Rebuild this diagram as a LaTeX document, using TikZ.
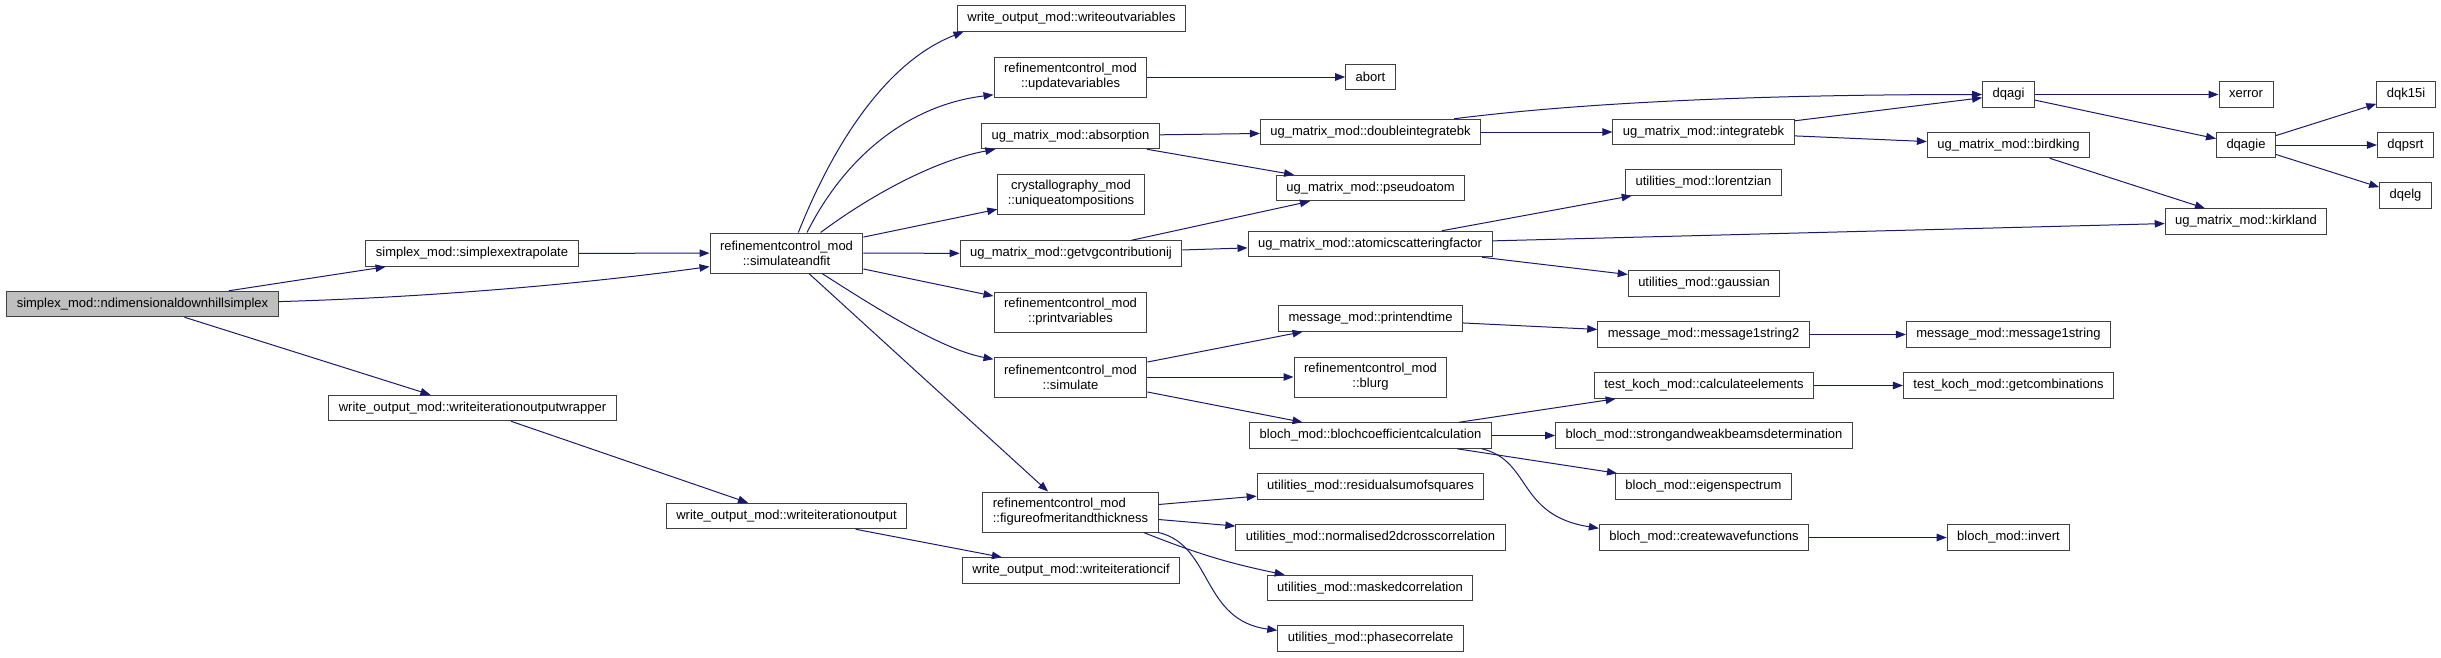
\documentclass[tikz,border=0pt]{standalone}
\usepackage{fontspec}
\setmainfont{Liberation Sans}
\usetikzlibrary{arrows.meta}
\definecolor{callblue}{HTML}{191970}

\begin{document}
\begin{tikzpicture}[
  x=1pt, y=1pt,
  box/.style={draw=black!75, line width=1pt, fill=white,
    minimum height=25.5pt, inner xsep=10pt, inner ysep=0pt,
    align=center, font=\fontsize{13}{15}\selectfont},
  root/.style={box, fill=black!25},
  tall/.style={minimum height=40pt},
  call/.style={-{Triangle[length=10pt,width=7.5pt]}, draw=callblue,
    line width=1pt}
]
  \useasboundingbox (0,0) rectangle (2441,-657);
  % Nodes
  \node[root] (ndim) at (142.5,-304) {simplex\_mod::ndimensionaldownhillsimplex};
  \node[box] (simplex) at (472,-253.5) {simplex\_mod::simplexextrapolate};
  \node[box] (wrapper) at (472.5,-408) {write\_output\_mod::writeiterationoutputwrapper};
  \node[box, tall] (simfit) at (786.5,-253) {refinementcontrol\_mod\\::simulateandfit};
  \node[box] (wio) at (786.5,-516) {write\_output\_mod::writeiterationoutput};
  \node[box] (wov) at (1071.5,-18.5) {write\_output\_mod::writeoutvariables};
  \node[box, tall] (updvar) at (1070.5,-77) {refinementcontrol\_mod\\::updatevariables};
  \node[box] (absorp) at (1070.5,-136) {ug\_matrix\_mod::absorption};
  \node[box, tall] (uniq) at (1071,-194) {crystallography\_mod\\::uniqueatompositions};
  \node[box] (getvg) at (1071,-253.5) {ug\_matrix\_mod::getvgcontributionij};
  \node[box, tall] (printvar) at (1070.5,-312) {refinementcontrol\_mod\\::printvariables};
  \node[box, tall] (simulate) at (1070.5,-377) {refinementcontrol\_mod\\::simulate};
  \node[box, tall, align=left] (fom) at (1070.5,-512) {refinementcontrol\_mod\\::figureofmeritandthickness};
  \node[box] (wcif) at (1071,-570.5) {write\_output\_mod::writeiterationcif};
  \node[box] (abort) at (1370.5,-77) {abort};
  \node[box] (dib) at (1370.5,-132) {ug\_matrix\_mod::doubleintegratebk};
  \node[box] (pseudo) at (1370.5,-188) {ug\_matrix\_mod::pseudoatom};
  \node[box] (asf) at (1370,-244) {ug\_matrix\_mod::atomicscatteringfactor};
  \node[box] (pet) at (1370.5,-318.5) {message\_mod::printendtime};
  \node[box, tall] (blurg) at (1370.5,-377) {refinementcontrol\_mod\\::blurg};
  \node[box] (bcc) at (1370.5,-435.5) {bloch\_mod::blochcoefficientcalculation};
  \node[box] (rss) at (1370.5,-486.5) {utilities\_mod::residualsumofsquares};
  \node[box] (n2d) at (1370.5,-537.5) {utilities\_mod::normalised2dcrosscorrelation};
  \node[box] (masked) at (1370,-588) {utilities\_mod::maskedcorrelation};
  \node[box] (phase) at (1370.5,-638.5) {utilities\_mod::phasecorrelate};
  \node[box] (ibk) at (1703.5,-132) {ug\_matrix\_mod::integratebk};
  \node[box] (lorentz) at (1703.5,-182.5) {utilities\_mod::lorentzian};
  \node[box] (gauss) at (1704,-283.5) {utilities\_mod::gaussian};
  \node[box] (m1s2) at (1703.5,-334.5) {message\_mod::message1string2};
  \node[box] (calcel) at (1704,-385.5) {test\_koch\_mod::calculateelements};
  \node[box] (swb) at (1704,-435.5) {bloch\_mod::strongandweakbeamsdetermination};
  \node[box] (eig) at (1703.5,-486.5) {bloch\_mod::eigenspectrum};
  \node[box] (cwf) at (1704,-537.5) {bloch\_mod::createwavefunctions};
  \node[box] (dqagi) at (2008.5,-94.5) {dqagi};
  \node[box] (birdking) at (2008.5,-145) {ug\_matrix\_mod::birdking};
  \node[box] (m1s) at (2008.5,-334.5) {message\_mod::message1string};
  \node[box] (getcomb) at (2008.5,-385.5) {test\_koch\_mod::getcombinations};
  \node[box] (inv) at (2008.5,-537.5) {bloch\_mod::invert};
  \node[box] (xerror) at (2246,-94.5) {xerror};
  \node[box] (dqagie) at (2246,-145) {dqagie};
  \node[box] (kirkland) at (2246,-221.5) {ug\_matrix\_mod::kirkland};
  \node[box] (dqk15i) at (2406,-94.5) {dqk15i};
  \node[box] (dqpsrt) at (2405.5,-145) {dqpsrt};
  \node[box] (dqelg) at (2405.5,-195.5) {dqelg};
  % Arrows
  \draw[call] (ndim) -- (simplex);
  \draw[call] (ndim.1.7) .. controls +(170,5) and +(-109,-15) .. (simfit.190.2);
  \draw[call] (ndim) -- (wrapper);
  \draw[call] (simplex) -- (simfit);
  \draw[call] (wrapper) -- (wio);
  \draw[call] (wio) -- (wcif);
  \draw[call] (simfit.60) .. controls +(37,93) and +(-75,-29) .. (wov.187.4);
  \draw[call] (simfit.45.7) .. controls +(39,78) and +(-83,-10) .. (updvar.193);
  \draw[call] (simfit.31.6) .. controls +(51,38) and +(-60,-11) .. (absorp.190.5);
  \draw[call] (simfit) -- (uniq);
  \draw[call] (simfit) -- (getvg);
  \draw[call] (simfit) -- (printvar);
  \draw[call] (simfit.-30.8) .. controls +(50,-32) and +(-53,10) .. (simulate.167.6);
  \draw[call] (simfit) -- (fom);
  \draw[call] (updvar) -- (abort);
  \draw[call] (absorp) -- (dib);
  \draw[call] (absorp) -- (pseudo);
  \draw[call] (getvg) -- (pseudo);
  \draw[call] (getvg) -- (asf);
  \draw[call] (dib) -- (ibk);
  \draw[call] (dib.9.4) .. controls +(150,19) and +(-180,0) .. (dqagi.west);
  \draw[call] (ibk) -- (dqagi);
  \draw[call] (ibk) -- (birdking);
  \draw[call] (birdking) -- (kirkland);
  \draw[call] (asf) -- (lorentz);
  \draw[call] (asf) -- (kirkland);
  \draw[call] (asf) -- (gauss);
  \draw[call] (dqagi) -- (xerror);
  \draw[call] (dqagi) -- (dqagie);
  \draw[call] (dqagie) -- (dqk15i);
  \draw[call] (dqagie) -- (dqpsrt);
  \draw[call] (dqagie) -- (dqelg);
  \draw[call] (simulate) -- (pet);
  \draw[call] (simulate) -- (blurg);
  \draw[call] (simulate) -- (bcc);
  \draw[call] (pet) -- (m1s2);
  \draw[call] (m1s2) -- (m1s);
  \draw[call] (bcc) -- (calcel);
  \draw[call] (calcel) -- (getcomb);
  \draw[call] (bcc) -- (swb);
  \draw[call] (bcc) -- (eig);
  \draw[call] ([xshift=-10pt]bcc.south east) .. controls +(50,-12) and +(-82,13) .. (cwf.175);
  \draw[call] (cwf) -- (inv);
  \draw[call] (fom) -- (rss);
  \draw[call] (fom) -- (n2d);
  \draw[call] ([xshift=-15pt]fom.south east) to[bend right=5] ([xshift=18pt]masked.north west);
  \draw[call] (fom.south east) .. controls +(54,-13) and +(-76,10) .. (phase.175);
\end{tikzpicture}
\end{document}
